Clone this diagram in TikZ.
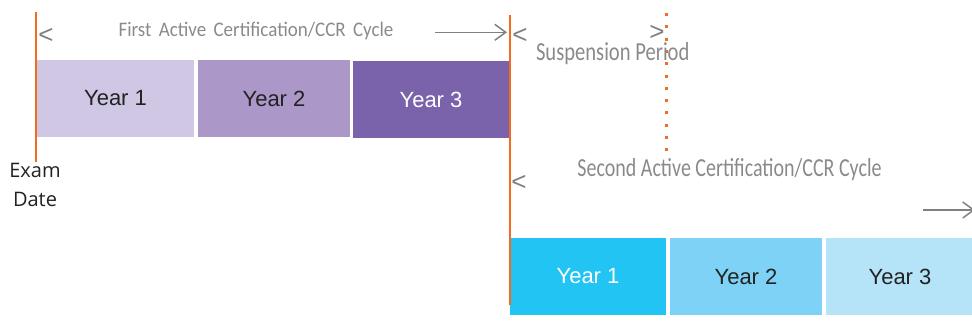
\documentclass[tikz,border=0pt]{standalone}
\usepackage{fontspec}
\setmainfont{Liberation Sans}
\newfontfamily\lblfont{Carlito}
\newfontfamily\examfont{Open Sans}
\usetikzlibrary{arrows.meta}
\definecolor{orangeline}{HTML}{F26B21}
\definecolor{graytext}{HTML}{8A8A8A}
\definecolor{grayline}{HTML}{808080}
\definecolor{pA}{HTML}{D0C7E5}
\definecolor{pB}{HTML}{AB98C8}
\definecolor{pC}{HTML}{7B63AB}
\definecolor{bA}{HTML}{21C4F3}
\definecolor{bB}{HTML}{7DD2F5}
\definecolor{bC}{HTML}{B5E4F9}
\definecolor{darktext}{HTML}{222222}
\tikzset{
  yearbox/.style={inner sep=0pt, outer sep=0pt, minimum height=77pt,
    font=\fontsize{22pt}{26pt}\selectfont, text=darktext},
  lbl/.style={inner sep=0pt, outer sep=0pt, anchor=base, text=graytext},
  chev/.style={inner sep=0pt, outer sep=0pt, text=grayline, anchor=base,
    text height=15pt, text depth=0pt,
    font=\fontsize{26pt}{28pt}\selectfont},
  vline/.style={draw=orangeline, line width=2pt},
  cyclearrow/.style={draw=grayline, line width=1.5pt,
    -{Straight Barb[length=11pt,width=16pt,line width=1.5pt]}},
}
\begin{document}
\begin{tikzpicture}[x=1pt,y=-1pt]
\useasboundingbox (0,0) rectangle (972,333);
% first cycle boxes
\node[yearbox, fill=pA, minimum width=157pt] (t1) at (115.5,98.5) {Year 1};
\node[yearbox, fill=pB, minimum width=152pt] (t2) at (274,98.5) {Year 2};
\node[yearbox, fill=pC, minimum width=156pt, text=white] (t3) at (431,99.5) {Year 3};
% second cycle boxes
\node[yearbox, fill=bA, minimum width=156pt, text=white] (b1) at (588,276.5) {Year 1};
\node[yearbox, fill=bB, minimum width=152pt] (b2) at (746,276.5) {Year 2};
\node[yearbox, fill=bC, minimum width=148pt] (b3) at (900,276.5) {Year 3};
% orange date lines
\coordinate (e1) at (36,12);
\coordinate (e2) at (36,162);
\coordinate (s1) at (509.5,15);
\coordinate (s2) at (509.5,305);
\draw[vline] (e1) -- (e2);
\draw[vline] (s1) -- (s2);
% dotted suspension end
\coordinate (d1) at (666,13);
\coordinate (d2) at (666,156);
\draw[draw=orangeline, line width=3pt, dash pattern=on 3pt off 9.3pt] (d1) -- (d2);
% exam date
\node[inner sep=0pt, anchor=base, align=center, text=darktext,
  font=\examfont\fontsize{20pt}{29pt}\selectfont] (exam) at (35,206) {Exam\\Date};
% labels
\node[lbl] (first) at (256,36.7) {\lblfont\fontsize{19pt}{22pt}\selectfont\scalebox{1}[1.09]{First\hspace{3pt} Active\hspace{3pt} Certification/CCR\hspace{3pt} Cycle}};
\node[lbl, anchor=base west, text height=16pt, text depth=5pt] (susp) at (536,60) {\lblfont\fontsize{20.6pt}{24pt}\selectfont\scalebox{1}[1.26]{Suspension Period}};
\node[lbl] (second) at (729.5,176.7) {\lblfont\fontsize{20pt}{24pt}\selectfont\scalebox{1}[1.3]{Second Active Certification/CCR Cycle}};
% chevrons
\node[chev] (c1) at (46,43.3) {<};
\node[chev] (c2) at (520,43.3) {<};
\node[chev] (c3) at (657,40.3) {>};
\node[chev] (c4) at (519,190.3) {<};
% arrows
\coordinate (a1s) at (435,32.3);
\coordinate (a1e) at (507,32.3);
\draw[cyclearrow] (a1s) -- (a1e);
\coordinate (a2s) at (923,210);
\coordinate (a2e) at (975,210);
\draw[cyclearrow] (a2s) -- (a2e);
\end{tikzpicture}
\end{document}
